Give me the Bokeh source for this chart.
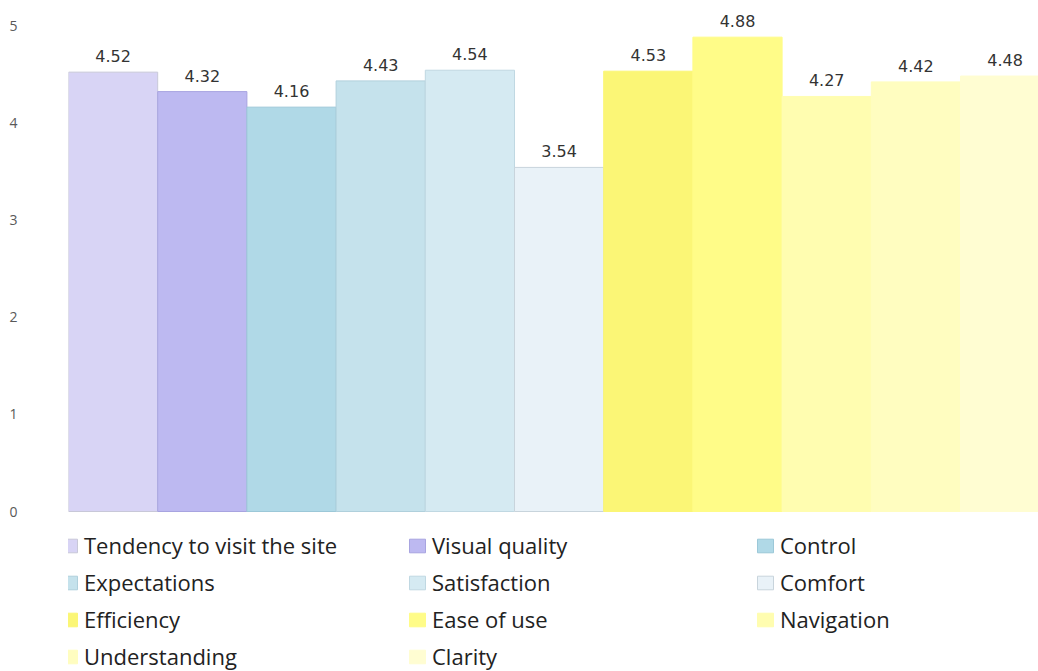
from bokeh.plotting import figure
from bokeh.models import ColumnDataSource, Range1d, FixedTicker, Legend, LegendItem, LabelSet
from bokeh.core.properties import value
from bokeh.embed import file_html
from bokeh.resources import INLINE

categories = ["Tendency to visit the site", "Visual quality", "Control", "Expectations",
              "Satisfaction", "Comfort", "Efficiency", "Ease of use", "Navigation",
              "Understanding", "Clarity"]
scores = [4.52, 4.32, 4.16, 4.43, 4.54, 3.54, 4.53, 4.88, 4.27, 4.42, 4.48]
colors = ["#D8D4F5", "#BDB9F1", "#B0D9E7", "#C5E2EC", "#D5EAF2", "#E9F2F8",
          "#FBF676", "#FFFC88", "#FFFDB0", "#FFFDC0", "#FFFDD2"]
outlines = ["#C8C8D8", "#A8A4E0", "#9CC8D8", "#B0D0DC", "#C0D8E2", "#C8D4DC",
            "#FBF676", "#FFFC88", "#FFFDB0", "#FFFDC0", "#FFFDD2"]
y_ticks = [0, 1, 2, 3, 4, 5]

PX = 97.2   # pixels per unit on the y axis
XPX = 89.2  # pixels per bar
xs = list(range(len(categories)))
src = ColumnDataSource(dict(x=xs, top=scores, color=colors, line=outlines,
                            cat=categories, lab=[f"{v:.2f}" for v in scores]))

p = figure(width=1038, height=671, output_backend="svg", toolbar_location=None,
           x_range=Range1d(-0.5, -0.5 + 970 / XPX),
           y_range=Range1d(-160 / PX, 511 / PX),
           min_border_left=68, min_border_right=0, min_border_top=0, min_border_bottom=0)
p.outline_line_color = None
p.xgrid.visible = False
p.ygrid.visible = False
p.xaxis.visible = False
p.yaxis.ticker = FixedTicker(ticks=y_ticks)
p.yaxis.axis_line_color = None
p.yaxis.major_tick_line_color = None
p.yaxis.minor_tick_line_color = None
p.yaxis.major_label_standoff = 45
p.yaxis.major_label_text_font = "Open Sans"
p.yaxis.major_label_text_font_size = "14px"
p.yaxis.major_label_text_color = "#595959"

r = p.vbar(x="x", top="top", width=1.0, bottom=0, fill_color="color", line_color="line",
           line_width=1, source=src)

labels = LabelSet(x="x", y="top", text="lab", source=src, text_align="center",
                  text_baseline="bottom", y_offset=10, text_font=value("DejaVu Sans"),
                  text_font_size="16px", text_color="#333333")
p.add_layout(labels)

# row-major order in a column-major legend (4 rows x 3 columns)
order = [0, 3, 6, 9, 1, 4, 7, 10, 2, 5, 8]
items = [LegendItem(label=categories[i], renderers=[r], index=i) for i in order]
legend = Legend(items=items, ncols=3, location=(-9, 0), margin=0, padding=0,
                border_line_color=None, background_fill_alpha=0,
                glyph_width=20, glyph_height=17, label_standoff=5, label_width=316,
                label_height=30, spacing=7, label_text_font="Open Sans",
                label_text_font_size="22px", label_text_color="#222222")
p.add_layout(legend)

open("out.html", "w").write(file_html(p, INLINE))
